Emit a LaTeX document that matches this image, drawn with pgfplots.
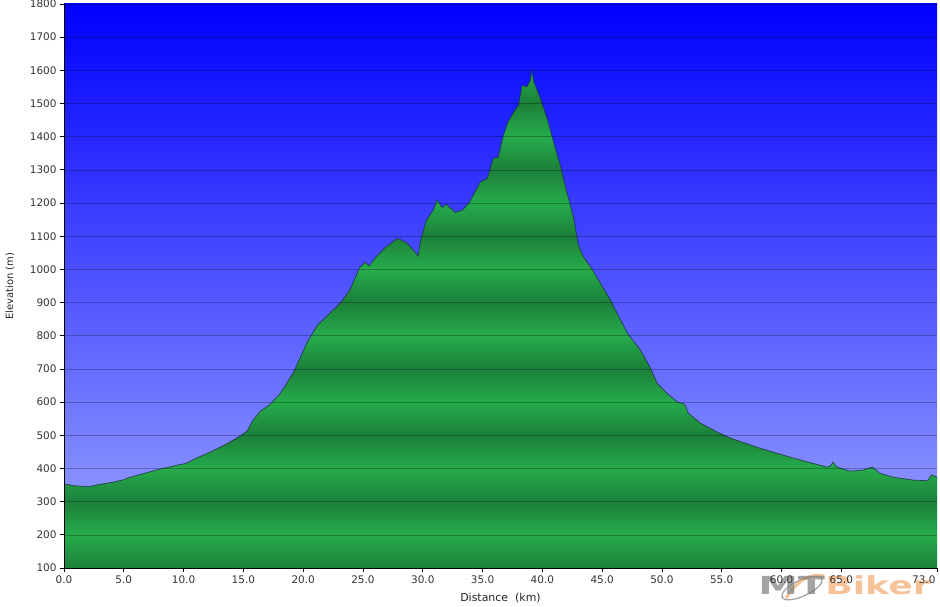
\documentclass[border=0pt]{standalone}
\usepackage{pgfplots}
\pgfplotsset{compat=1.18}
\usepackage{pgfplotstable}
\usepackage{fontspec}
\setmainfont{DejaVu Sans}
\definecolor{gd}{RGB}{28,128,57}
\definecolor{gl}{RGB}{38,172,76}
\definecolor{bgtop}{RGB}{0,0,255}
\definecolor{bgbot}{RGB}{158,168,255}
\definecolor{mtgray}{RGB}{125,125,125}
\definecolor{mtorange}{RGB}{242,170,110}
\pgfdeclareverticalshading{greenbands}{100bp}{color(0bp)=(gl); color(5bp)=(gd); color(8.3333bp)=(gl); color(11.6667bp)=(gd); color(15bp)=(gl); color(18.3333bp)=(gd); color(21.6667bp)=(gl); color(25bp)=(gd); color(28.3333bp)=(gl); color(31.6667bp)=(gd); color(35bp)=(gl); color(38.3333bp)=(gd); color(41.6667bp)=(gl); color(45bp)=(gd); color(48.3333bp)=(gl); color(51.6667bp)=(gd); color(55bp)=(gl); color(58.3333bp)=(gd); color(61.6667bp)=(gl); color(65bp)=(gd); color(68.3333bp)=(gl); color(71.6667bp)=(gd); color(75bp)=(gl); color(78.3333bp)=(gd); color(81.6667bp)=(gl); color(85bp)=(gd); color(88.3333bp)=(gl); color(91.6667bp)=(gd); color(95bp)=(gl); color(98.3333bp)=(gd); color(100bp)=(gl)}

\pgfplotstableread{
km elev
0.0 100
0.0 350
0.3 352
0.8 348
1.3 347
2.0 345
3.0 352
4.0 358
5.0 366
5.3 371
6.0 378
7.0 388
8.0 398
9.0 406
9.7 412
10.2 415
11.0 430
12.2 449
13.5 472
14.7 497
15.3 512
15.8 545
16.4 572
17.2 592
18.1 627
19.2 690
20.3 778
21.2 832
22.0 860
23.1 898
23.9 937
24.7 1004
25.2 1022
25.5 1010
26.0 1034
26.8 1064
27.9 1094
28.7 1079
29.3 1055
29.6 1040
29.8 1085
30.3 1148
30.9 1180
31.2 1210
31.6 1187
32.0 1196
32.7 1172
33.3 1178
33.9 1202
34.8 1263
35.4 1275
35.9 1335
36.3 1338
36.7 1398
37.1 1443
37.7 1480
38.0 1494
38.3 1555
38.7 1550
39.0 1570
39.1 1600
39.3 1564
39.8 1519
40.4 1455
40.9 1389
41.5 1314
42.0 1239
42.6 1157
43.0 1075
43.4 1040
44.2 998
45.7 907
47.1 808
48.2 757
49.0 705
49.6 657
50.4 627
51.3 600
51.9 594
52.2 567
53.2 537
54.6 510
55.7 492
58.2 461
61.0 431
63.8 404
64.1 408
64.3 419
64.6 405
64.9 401
65.7 392
66.8 395
67.4 402
67.6 404
68.2 386
69.3 374
71.0 365
72.2 363
72.5 378
72.6 380
73.0 374
73.0 100
}\profile

\begin{document}
\begin{tikzpicture}
\begin{axis}[
  scale only axis,
  width=873bp, height=564bp,
  xmin=0, xmax=73, ymin=100, ymax=1800,
  axis x line*=bottom, axis y line*=left,
  axis line style={black, line width=1bp},
  xtick={0,5,10,15,20,25,30,35,40,45,50,55,60,65},
  extra x ticks={73},
  extra x tick style={xticklabel style={anchor=north east, xshift=2bp}},
  ytick={100,200,...,1800},
  xticklabel style={/pgf/number format/fixed, /pgf/number format/fixed zerofill, /pgf/number format/precision=1},
  yticklabel style={/pgf/number format/fixed, /pgf/number format/1000 sep={}},
  /pgf/number format/assume math mode=true,
  tick label style={font=\fontsize{10.5}{12}\selectfont, text=black!80},
  tick align=outside, major tick length=4bp,
  tick style={black, line width=0.8bp},
  ymajorgrids,
  set layers=axis on top,
  grid style={/pgfplots/on layer=axis background, black, opacity=0.28, line width=0.6bp},
  axis background/.style={top color=bgtop, bottom color=bgbot},
  xlabel={Distance\ \ (km)},
  ylabel={Elevation (m)},
  every axis x label/.style={at={([yshift=-30bp]axis description cs:0.5,0)}, anchor=center, font=\fontsize{11}{13}\selectfont, text=black!85},
  every axis y label/.style={at={([xshift=-54bp]axis description cs:0,0.5)}, anchor=center, rotate=90, font=\fontsize{10}{12}\selectfont, text=black!85},
]
\addplot[draw=none, shade, shading=greenbands] table[x=km, y=elev] {\profile};
\addplot[color={rgb,255:red,25;green,45;blue,60}, line width=0.7bp, opacity=0.8, restrict y to domain=101:2000] table[x=km, y=elev] {\profile};
\end{axis}
\begin{scope}[opacity=0.7]
\draw[mtgray, line width=1.3bp] (738bp,-20bp) ellipse [x radius=22bp, y radius=8bp, rotate=25];
\draw[mtorange, line width=3bp] (722bp,-30bp) .. controls (734bp,-12bp) and (746bp,-5bp) .. (760bp,-8bp);
\node[anchor=west, inner sep=0pt, xscale=1.6, transform shape, font=\fontsize{25}{25}\bfseries, text=mtgray] at (694bp,-17bp) {MT};
\node[anchor=west, inner sep=0pt, xscale=1.45, transform shape, font=\fontsize{25}{25}\bfseries, text=mtorange] at (761bp,-17bp) {Biker};
\end{scope}
\pgfresetboundingbox
\path[use as bounding box] (-64bp,-39bp) rectangle (876bp,568bp);
\end{tikzpicture}
\end{document}
